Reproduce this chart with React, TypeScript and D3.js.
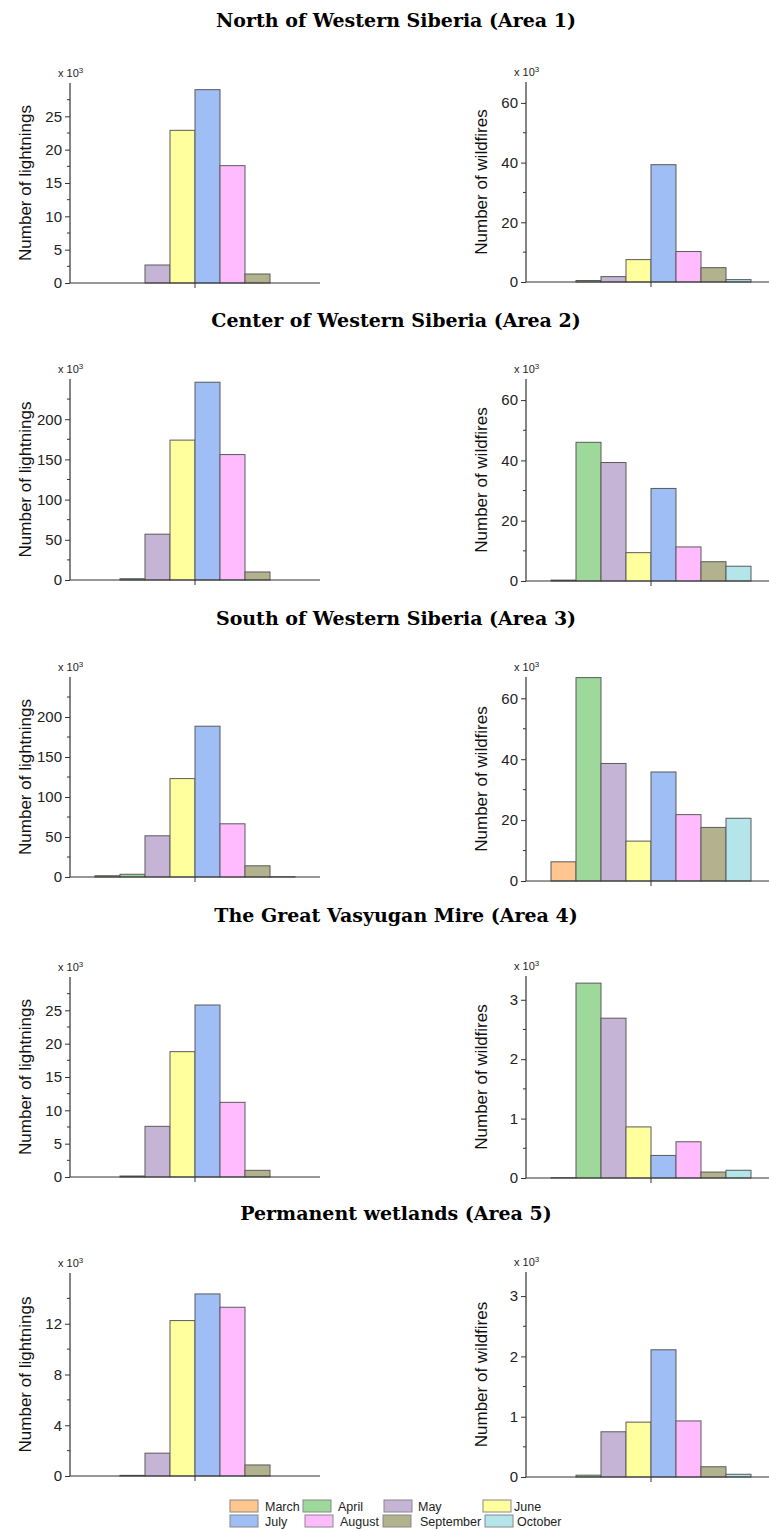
import * as d3 from "d3";
import { useEffect, useRef } from "react";

const months = ["March", "April", "May", "June", "July", "August", "September", "October"];
const monthColors = ["#FFC68F", "#9ED89B", "#C6B4D7", "#FFFF9E", "#9EBEF5", "#FFBBFD", "#B2B28F", "#B3E5EB"];

const areaTitles = [
  "North of Western Siberia (Area 1)",
  "Center of Western Siberia (Area 2)",
  "South of Western Siberia (Area 3)",
  "The Great Vasyugan Mire (Area 4)",
  "Permanent wetlands (Area 5)",
];

// values in thousands (x 10^3)
const lightnings = [
  [0, 0, 2.7, 22.9, 29.0, 17.6, 1.35, 0],
  [0, 1.6, 57, 174, 246, 156, 10, 0],
  [1.6, 3.4, 51.5, 123, 188.5, 66.5, 14, 0.3],
  [0, 0.15, 7.6, 18.8, 25.8, 11.2, 1.0, 0],
  [0, 0.05, 1.8, 12.25, 14.35, 13.3, 0.87, 0],
];

const wildfires = [
  [0, 0.5, 1.8, 7.5, 39.3, 10.2, 4.8, 0.8],
  [0.3, 46, 39.3, 9.4, 30.7, 11.3, 6.4, 4.9],
  [6.3, 66.8, 38.6, 13.1, 35.8, 21.8, 17.6, 20.6],
  [0.005, 3.28, 2.69, 0.86, 0.38, 0.61, 0.1, 0.13],
  [0, 0.03, 0.75, 0.91, 2.11, 0.93, 0.17, 0.045],
];

const lightningMax = [30, 250, 250, 30, 16];
const lightningMajor = [5, 50, 50, 5, 4];
const wildfireMax = [67, 67, 67, 3.4, 3.4];
const wildfireMajor = [20, 20, 20, 1, 1];

const W = 769;
const H = 1530;
const sans = "'Liberation Sans', Arial, sans-serif";

export default function App() {
  const svgRef = useRef<SVGSVGElement>(null);

  useEffect(() => {
    if (!svgRef.current) return;
    const svg = d3.select(svgRef.current);
    svg.selectAll("*").remove();

    const titleY = [27, 327, 625, 922, 1220];
    const leftTop = [83, 379, 677, 977, 1273];
    const leftBase = [283, 580, 877, 1177, 1476];
    const rightTop = [82, 379, 677, 976, 1272];
    const rightBase = [282, 581, 881, 1178, 1477];

    const drawPanel = (
      x0: number,
      top: number,
      base: number,
      values: number[],
      max: number,
      major: number,
      label: string,
      labelX: number,
    ) => {
      const g = svg.append("g");
      const y = d3.scaleLinear().domain([0, max]).range([base, top]);
      const group = d3.scaleBand().domain(["1"]).range([x0, x0 + 250]).paddingOuter(0.125);
      const x = d3
        .scaleBand()
        .domain(months)
        .range([group("1")!, group("1")! + group.bandwidth()])
        .padding(0);

      // bars
      g.selectAll(".bar")
        .data(values.map((v, i) => ({ v, m: months[i], c: monthColors[i] })).filter((d) => d.v > 0))
        .enter()
        .append("rect")
        .attr("x", (d) => x(d.m)!)
        .attr("y", (d) => y(d.v))
        .attr("width", x.bandwidth())
        .attr("height", (d) => base - y(d.v))
        .style("fill", (d) => d.c)
        .style("stroke", "#5a5a5a")
        .style("stroke-width", 1);

      // y axis: top of the axis carries no label
      const majors = d3.range(0, max - 1e-6, major);
      const minors = d3.range(major / 2, max - 1e-6, major);
      const yAxis = d3
        .axisLeft(y)
        .tickValues(majors)
        .tickSize(5)
        .tickPadding(3)
        .tickFormat((d) => d3.format("~g")(d as number));
      const ya = g.append("g").attr("transform", `translate(${x0},0)`).call(yAxis);
      ya.select(".domain").remove();
      ya.selectAll("text").style("font-family", sans).style("font-size", "15px").style("fill", "#222");
      ya.selectAll("line").style("stroke", "#333");
      g.append("g")
        .selectAll("line")
        .data(minors)
        .enter()
        .append("line")
        .attr("x1", x0 - 3)
        .attr("x2", x0)
        .attr("y1", (d) => y(d))
        .attr("y2", (d) => y(d))
        .style("stroke", "#333");
      g.append("line")
        .attr("x1", x0)
        .attr("x2", x0)
        .attr("y1", top)
        .attr("y2", base)
        .style("stroke", "#333")
        .style("stroke-width", 1.2);

      // x axis
      g.append("line")
        .attr("x1", x0)
        .attr("x2", x0 + 250)
        .attr("y1", base)
        .attr("y2", base)
        .style("stroke", "#333")
        .style("stroke-width", 1.2);
      const cx = group("1")! + group.bandwidth() / 2;
      g.append("line")
        .attr("x1", cx)
        .attr("x2", cx)
        .attr("y1", base)
        .attr("y2", base + 5)
        .style("stroke", "#333");

      // multiplier
      const mult = g
        .append("text")
        .attr("x", x0 - 12)
        .attr("y", top - 6)
        .style("font-family", sans)
        .style("font-size", "11px")
        .style("fill", "#222");
      mult.append("tspan").text("x 10");
      mult.append("tspan").attr("dy", -4).style("font-size", "8px").text("3");

      // axis label
      g.append("text")
        .attr("transform", `translate(${labelX},${(top + base) / 2}) rotate(-90)`)
        .attr("text-anchor", "middle")
        .style("font-family", sans)
        .style("font-size", "17px")
        .style("fill", "#111")
        .text(label);
    };

    areaTitles.forEach((t, i) => {
      svg
        .append("text")
        .attr("x", 396)
        .attr("y", titleY[i])
        .attr("text-anchor", "middle")
        .style("font-family", "'DejaVu Serif', 'Liberation Serif', serif")
        .style("font-weight", "bold")
        .style("font-size", "19px")
        .style("fill", "#000")
        .text(t);

      drawPanel(70, leftTop[i], leftBase[i], lightnings[i], lightningMax[i], lightningMajor[i], "Number of lightnings", 31);
      drawPanel(526, rightTop[i], rightBase[i], wildfires[i], wildfireMax[i], wildfireMajor[i], "Number of wildfires", 487);
    });

    // legend
    const legSwatch = [
      [230, 303, 384, 483],
      [230, 305, 383, 485],
    ];
    const legText = [
      [265, 338, 418, 514],
      [265, 340, 420, 517],
    ];
    const legRows = [1500, 1515];
    const legend = svg.append("g");
    months.forEach((m, i) => {
      const row = Math.floor(i / 4);
      const col = i % 4;
      legend
        .append("rect")
        .attr("x", legSwatch[row][col])
        .attr("y", legRows[row])
        .attr("width", 28)
        .attr("height", 12)
        .style("fill", monthColors[i])
        .style("stroke", "#888")
        .style("stroke-width", 1);
      legend
        .append("text")
        .attr("x", legText[row][col])
        .attr("y", legRows[row] + 10.5)
        .style("font-family", sans)
        .style("font-size", "12.5px")
        .style("fill", "#222")
        .text(m);
    });
  }, []);

  return (
    <svg
      ref={svgRef}
      width={W}
      height={H}
      style={{ position: "absolute", left: 0, top: 0, background: "#fff" }}
    />
  );
}
